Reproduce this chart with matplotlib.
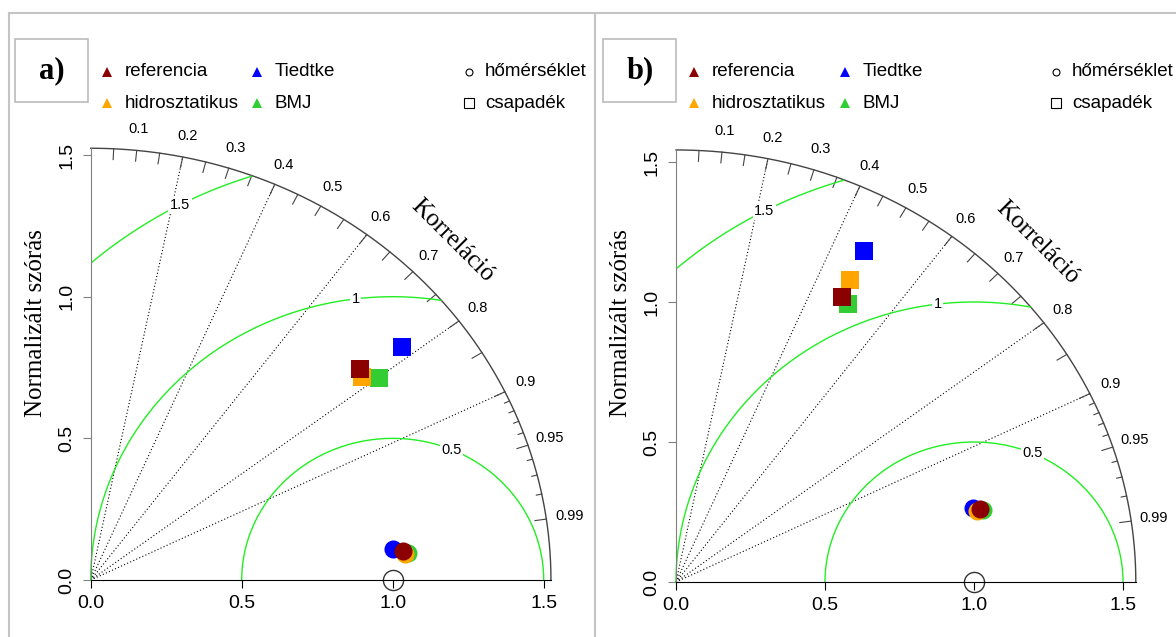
import numpy as np
import matplotlib.pyplot as plt
from matplotlib.lines import Line2D
from matplotlib.patches import Rectangle

W, H = 1176, 637

# models (draw order: Tiedtke, BMJ, hidrosztatikus, referencia)
models = ["referencia", "hidrosztatikus", "Tiedtke", "BMJ"]
colors = ["#8B0000", "#FFA500", "#0000FF", "#32CD32"]
order = [2, 3, 1, 0]

# panel a) normalized std and correlation
a_sd_temp = [1.038, 1.045, 1.008, 1.056]
a_cor_temp = [0.995, 0.996, 0.994, 0.996]
a_sd_prec = [1.161, 1.149, 1.318, 1.192]
a_cor_prec = [0.767, 0.782, 0.782, 0.801]

# panel b)
b_sd_temp = [1.054, 1.043, 1.032, 1.062]
b_cor_temp = [0.969, 0.970, 0.967, 0.970]
b_sd_prec = [1.161, 1.227, 1.340, 1.149]
b_cor_prec = [0.480, 0.477, 0.470, 0.502]

sd_ticks = [0.0, 0.5, 1.0, 1.5]
cor_labels = [0.1, 0.2, 0.3, 0.4, 0.5, 0.6, 0.7, 0.8, 0.9, 0.95, 0.99]
cor_lines = [0.2, 0.4, 0.6, 0.8, 0.9]
rms_levels = [0.5, 1.0, 1.5]
rms_label_angle = [67, 97, 118]

SANS = "Liberation Sans"
SERIF = "Liberation Serif"

fig = plt.figure(figsize=(W / 100, H / 100), dpi=100)


def fx(px):
    return px / W


def fy(py):
    return 1 - py / H


def taylor(ox, oy, sx, sy, maxsd, letter, sd_t, cor_t, sd_p, cor_p, lx):
    x0, x1 = -0.28, 1.66
    y0, y1 = -0.2, 1.95
    left = ox + x0 * sx
    bot = oy - y0 * sy
    top = oy - y1 * sy
    ax = fig.add_axes([fx(left), fy(bot), (x1 - x0) * sx / W, (bot - top) / H])
    ax.set_xlim(x0, x1)
    ax.set_ylim(y0, y1)
    ax.patch.set_alpha(0)
    for s in ["top", "right"]:
        ax.spines[s].set_visible(False)
    ax.spines["left"].set_position(("data", 0))
    ax.spines["bottom"].set_position(("data", 0))
    ax.spines["left"].set_bounds(0, maxsd)
    ax.spines["bottom"].set_bounds(0, maxsd)
    ax.spines["left"].set_color("#808080")
    ax.spines["bottom"].set_color("black")
    ax.set_xticks(sd_ticks)
    ax.set_yticks(sd_ticks)
    ax.set_xticklabels([f"{v:.1f}" for v in sd_ticks], fontfamily=SANS, fontsize=14)
    ax.set_yticklabels([f"{v:.1f}" for v in sd_ticks], fontfamily=SANS, fontsize=14,
                       rotation=90, va="center")
    ax.tick_params(axis="x", direction="out", length=6, width=0.8, pad=5, color="black")
    ax.tick_params(axis="y", direction="out", length=6, width=0.8, pad=5, color="#808080")

    # outer arc
    th = np.linspace(0, np.pi / 2, 300)
    ax.plot(maxsd * np.cos(th), maxsd * np.sin(th), color="#444444", lw=1)

    # correlation lines
    for c in cor_lines:
        ax.plot([0, maxsd * c], [0, maxsd * np.sqrt(1 - c ** 2)], color="black",
                lw=0.8, ls=(0, (1, 2)))

    # arc ticks
    major = list(np.arange(0.05, 0.91, 0.05)) + [0.95, 0.99]
    minor = [0.91, 0.92, 0.93, 0.94, 0.96, 0.97, 0.98]
    for c, ln in [(c, 0.025) for c in major] + [(c, 0.012) for c in minor]:
        s = np.sqrt(1 - c ** 2)
        ax.plot([maxsd * c, (1 - ln) * maxsd * c], [maxsd * s, (1 - ln) * maxsd * s],
                color="#444444", lw=0.8)
    for c in cor_labels:
        ax.text(1.05 * maxsd * c, 1.05 * maxsd * np.sqrt(1 - c ** 2), f"{c:g}",
                fontfamily=SANS, fontsize=10.5, ha="center", va="center")

    # centred RMS contours
    t = np.linspace(0, np.pi, 600)
    for r, ang in zip(rms_levels, rms_label_angle):
        x = 1 + r * np.cos(t)
        y = r * np.sin(t)
        ok = (x >= 0) & (x ** 2 + y ** 2 <= maxsd ** 2)
        ax.plot(np.where(ok, x, np.nan), np.where(ok, y, np.nan), color="#22EE22", lw=1)
        a = np.radians(ang)
        ax.text(1 + r * np.cos(a), r * np.sin(a), f"{r:g}", fontfamily=SANS, fontsize=10.5,
                ha="center", va="center",
                bbox=dict(boxstyle="square,pad=0.1", fc="white", ec="none"))

    # reference point
    ax.plot([1.0], [0.0], marker="o", ms=14.5, mfc="none", mec="#333333", mew=1,
            clip_on=False)

    # model points
    for i in order:
        ax.plot(sd_p[i] * cor_p[i], sd_p[i] * np.sqrt(1 - cor_p[i] ** 2), marker="s",
                ms=13.5, color=colors[i], mew=0)
    for i in order:
        ax.plot(sd_t[i] * cor_t[i], sd_t[i] * np.sqrt(1 - cor_t[i] ** 2), marker="o",
                ms=13, color=colors[i], mew=0)

    ax.text(1.11 * maxsd * np.cos(np.pi / 4), 1.11 * maxsd * np.sin(np.pi / 4), "Korreláció",
            fontfamily=SERIF, fontsize=18, rotation=-45, ha="center", va="center")
    fig.text(fx(ox - 55), fy(323), "Normalizált szórás", fontfamily=SERIF, fontsize=18,
             rotation=90, ha="center", va="center")

    # panel letter box
    bx = lx[0]
    fig.add_artist(Rectangle((fx(bx), fy(102)), 73 / W, 63 / H, transform=fig.transFigure,
                             fill=False, ec="#BBBBBB", lw=1.2))
    fig.text(fx(bx + 37), fy(71), letter, fontfamily=SERIF, fontweight="bold", fontsize=22,
             ha="center", va="center")

    # legend
    rows = [72, 103]
    pos = [(lx[1], rows[0]), (lx[1], rows[1]), (lx[2], rows[0]), (lx[2], rows[1])]
    for i, (px, py) in enumerate(pos):
        fig.add_artist(Line2D([fx(px)], [fy(py)], marker="^", ms=6.5, color=colors[i], mew=0,
                              transform=fig.transFigure))
        fig.text(fx(px + 18), fy(py), models[i], fontfamily=SANS, fontsize=13.5, va="center")
    for mk, lab, py in [("o", "hőmérséklet", rows[0]), ("s", "csapadék", rows[1])]:
        fig.add_artist(Line2D([fx(lx[3])], [fy(py)], marker=mk, ms=5 if mk == "o" else 6.5,
                              mfc="none", mec="black", mew=0.8, transform=fig.transFigure))
        fig.text(fx(lx[3] + 16), fy(py), lab, fontfamily=SANS, fontsize=13.5, va="center")
    return ax


taylor(90.7, 580, 302, 283.3, 1.524, "a)", a_sd_temp, a_cor_temp, a_sd_prec, a_cor_prec,
       (15, 107, 257, 469))
taylor(676, 582, 298, 280, 1.543, "b)", b_sd_temp, b_cor_temp, b_sd_prec, b_cor_prec,
       (603, 694, 845, 1056))

# outer frame
for xs, ys in [([8.5, W], [12.5, 12.5]), ([8.5, 8.5], [12.5, H]), ([594.5, 594.5], [12.5, H])]:
    fig.add_artist(Line2D([fx(v) for v in xs], [fy(v) for v in ys], color="#C4C4C4", lw=1.5,
                          transform=fig.transFigure))

fig.savefig("out.png", dpi=100)
